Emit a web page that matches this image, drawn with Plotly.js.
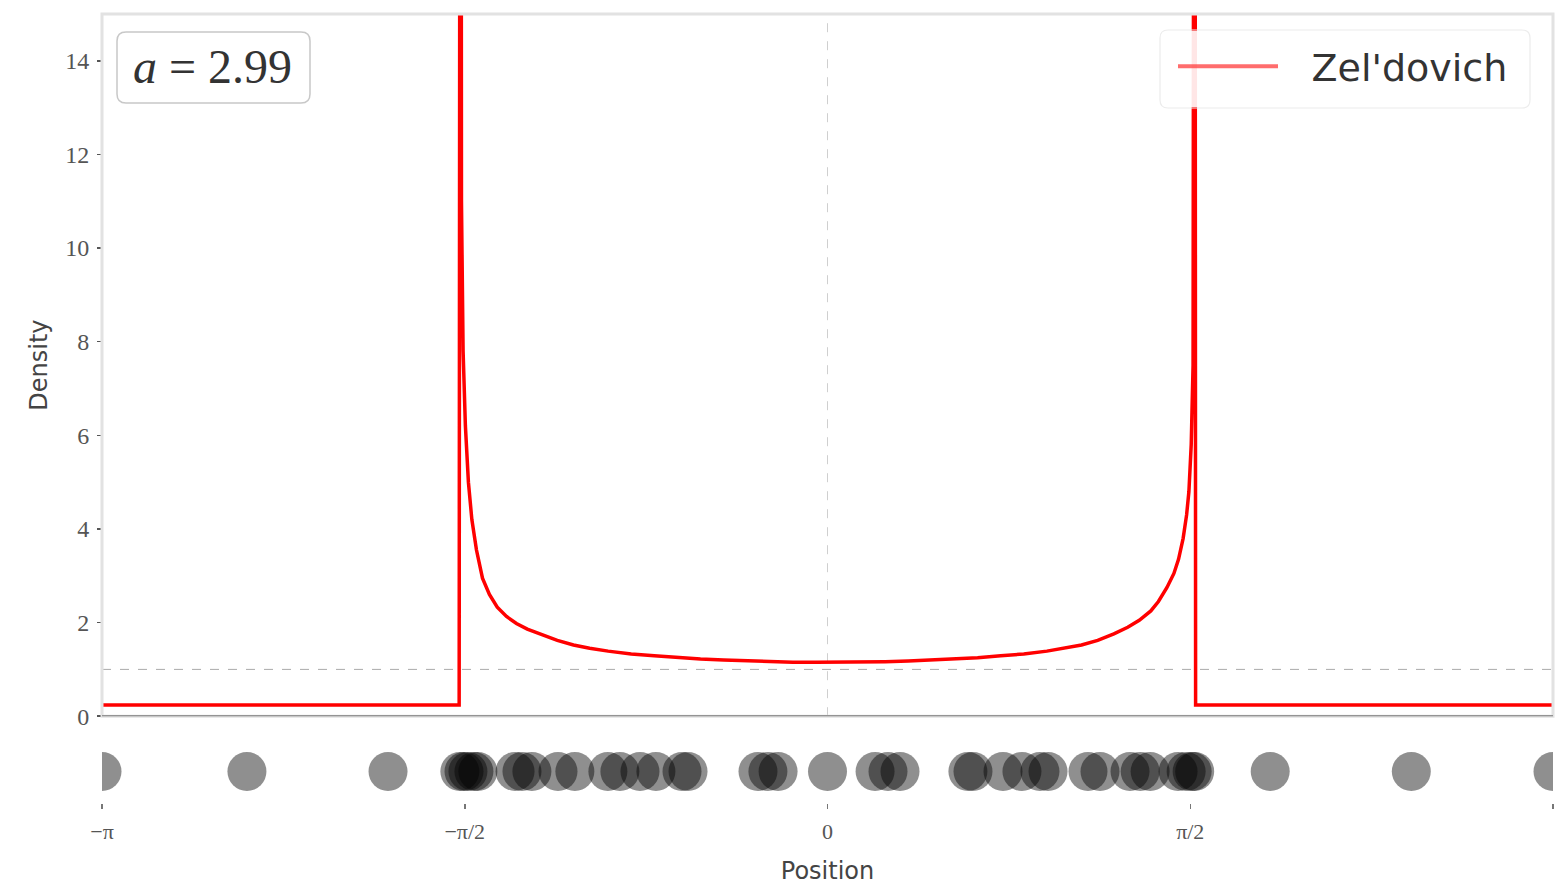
<!DOCTYPE html>
<html>
<head>
<meta charset="utf-8">
<script src="https://cdn.plot.ly/plotly-3.0.1.min.js"></script>
<style>
  html, body { margin: 0; padding: 0; background: #fff; }
  #chart { width: 1558px; height: 888px; }
</style>
</head>
<body>
<div id="chart"></div>
<script>
// ---- Data ----
// Zel'dovich density profile (left half, centre, right half)
const densityXLeft = [-3.1416, -1.595, -1.589, -1.585, -1.578, -1.568, -1.555, -1.54, -1.52, -1.494, -1.464, -1.43, -1.39, -1.347, -1.3, -1.24, -1.17, -1.1, -1.03, -0.95, -0.85, -0.75, -0.65, -0.55, -0.45, -0.35, -0.25, -0.15, -0.05];
const densityYLeft = [0.24, 0.24, 40, 11, 7.8, 6.2, 5.0, 4.2, 3.55, 2.95, 2.6, 2.33, 2.13, 1.98, 1.86, 1.74, 1.62, 1.52, 1.45, 1.39, 1.33, 1.29, 1.25, 1.22, 1.2, 1.18, 1.165, 1.155, 1.15];
const densityXRight = [0.05, 0.15, 0.25, 0.35, 0.45, 0.55, 0.65, 0.75, 0.85, 0.95, 1.03, 1.1, 1.17, 1.24, 1.3, 1.35, 1.4, 1.433, 1.47, 1.5, 1.52, 1.54, 1.555, 1.565, 1.575, 1.583, 1.59, 1.594, 3.1416];
const densityYRight = [1.15, 1.155, 1.165, 1.18, 1.2, 1.22, 1.25, 1.29, 1.33, 1.39, 1.45, 1.52, 1.62, 1.76, 1.9, 2.05, 2.25, 2.45, 2.75, 3.05, 3.35, 3.8, 4.3, 4.8, 5.8, 7.5, 40, 0.24, 0.24];

// Particle positions shown in the strip below the density panel
const particleX = [-3.1416, -2.514, -1.903,
  -1.592, -1.574, -1.557, -1.531, -1.514, -1.353, -1.323, -1.280, -1.167, -1.094, -0.951, -0.899, -0.812, -0.743, -0.630, -0.604,
  -0.301, -0.258, -0.214,
  0.0,
  0.206, 0.262, 0.314,
  0.608, 0.630, 0.760, 0.842, 0.920, 0.955, 1.128, 1.180, 1.310, 1.354, 1.397, 1.518, 1.553, 1.579, 1.590,
  1.917, 2.528, 3.1416];

// Tick labels
const xTickVals = [-Math.PI, -Math.PI / 2, 0, Math.PI / 2, Math.PI];
const xTickText = ['\u2212\u03c0', '\u2212\u03c0/2', '0', '\u03c0/2', '\u03c0'];
const yTickVals = [0, 2, 4, 6, 8, 10, 12, 14];

const legendName = "\u2002\u2005Zel'dovich";
const paramLabel = '<i>a</i> = 2.99';

const densityX = densityXLeft.concat([0], densityXRight);
const densityY = densityYLeft.concat([1.15], densityYRight);
const particleY = particleX.map(() => 0);

const serif = 'Liberation Serif, DejaVu Serif, serif';
const sans = 'DejaVu Sans, Open Sans, sans-serif';

// page geometry (pixels) used only to place decorative boxes in paper coordinates
const W = 1558, H = 888, ML = 102, MR = 5, MT = 14, MB = 85;
const PW = W - ML - MR, PH = H - MT - MB;
function px(x) { return (x - ML) / PW; }
function py(y) { return (H - MB - y) / PH; }
function roundedBox(x0, y0, x1, y1, r) {
  const rx = r / PW, ry = r / PH;
  const a = px(x0), b = px(x1), top = py(y0), bot = py(y1);
  return 'M' + (a + rx) + ',' + top +
    ' L' + (b - rx) + ',' + top + ' Q' + b + ',' + top + ' ' + b + ',' + (top - ry) +
    ' L' + b + ',' + (bot + ry) + ' Q' + b + ',' + bot + ' ' + (b - rx) + ',' + bot +
    ' L' + (a + rx) + ',' + bot + ' Q' + a + ',' + bot + ' ' + a + ',' + (bot + ry) +
    ' L' + a + ',' + (top - ry) + ' Q' + a + ',' + top + ' ' + (a + rx) + ',' + top + ' Z';
}

const traces = [
  {
    x: densityX, y: densityY, xaxis: 'x', yaxis: 'y',
    type: 'scatter', mode: 'lines',
    line: { color: '#ff0000', width: 3.5 },
    showlegend: false, hoverinfo: 'skip'
  },
  {
    x: [null], y: [null], xaxis: 'x', yaxis: 'y',
    type: 'scatter', mode: 'lines', name: legendName,
    line: { color: 'rgba(255,60,60,0.75)', width: 4 },
    showlegend: true
  },
  {
    x: particleX, y: particleY, xaxis: 'x2', yaxis: 'y2',
    type: 'scatter', mode: 'markers',
    marker: { size: 39, color: 'rgba(0,0,0,0.44)', line: { width: 0 } },
    showlegend: false, cliponaxis: true, hoverinfo: 'skip'
  }
];

const layout = {
  width: W, height: H,
  margin: { l: ML, r: MR, t: MT, b: MB },
  paper_bgcolor: '#ffffff', plot_bgcolor: '#ffffff',
  showlegend: true,
  legend: {
    x: px(1173), y: py(35), xanchor: 'left', yanchor: 'top',
    bgcolor: 'rgba(0,0,0,0)', borderwidth: 0,
    font: { family: sans, size: 38, color: '#333' },
    itemwidth: 100
  },
  xaxis: {
    anchor: 'y', domain: [0, 1], range: [-Math.PI, Math.PI],
    showticklabels: false, ticks: '', showgrid: false, zeroline: false, showline: false
  },
  yaxis: {
    anchor: 'x', domain: [0.11, 1], range: [0, 15],
    tickvals: yTickVals, ticks: 'outside', ticklen: 4, tickwidth: 1.5, tickcolor: '#555',
    ticklabelstandoff: 3,
    tickfont: { family: serif, size: 24, color: '#555' },
    showgrid: false, zeroline: false, showline: false,
    title: { text: 'Density', font: { family: sans, size: 24, color: '#444' }, standoff: 10 }
  },
  xaxis2: {
    anchor: 'y2', domain: [0, 1], range: [-Math.PI, Math.PI],
    tickvals: xTickVals, ticktext: xTickText,
    ticks: 'outside', ticklen: 5, tickwidth: 1.5, tickcolor: '#777',
    ticklabelstandoff: 4,
    tickfont: { family: serif, size: 22, color: '#555' },
    showgrid: false, zeroline: false, showline: false,
    title: { text: 'Position', font: { family: sans, size: 24, color: '#444' }, standoff: 18 }
  },
  yaxis2: {
    anchor: 'x2', domain: [0, 0.08], range: [-1, 1], visible: false, fixedrange: true
  },
  shapes: [
    { type: 'line', xref: 'x', yref: 'y domain', x0: 0, x1: 0, y0: 0, y1: 1,
      line: { color: '#cfcfcf', width: 1, dash: 'dash' }, layer: 'below' },
    { type: 'line', xref: 'x domain', yref: 'y', x0: 0, x1: 1, y0: 1, y1: 1,
      line: { color: '#aaaaaa', width: 1, dash: 'dash' }, layer: 'below' },
    { type: 'rect', xref: 'x domain', yref: 'y domain', x0: 0, x1: 1, y0: 0, y1: 1,
      line: { color: '#e2e2e2', width: 3 }, layer: 'above' },
    { type: 'line', xref: 'x domain', yref: 'y', x0: 0, x1: 1, y0: 0, y1: 0,
      line: { color: '#7a7a7a', width: 2 }, layer: 'above' },
    // legend frame: fill + rounded border
    { type: 'rect', xref: 'paper', yref: 'paper', x0: px(1161), x1: px(1529), y0: py(107), y1: py(31),
      fillcolor: '#ffffff', opacity: 0.9, line: { width: 0 }, layer: 'above' },
    { type: 'path', xref: 'paper', yref: 'paper', path: roundedBox(1160, 30, 1530, 108, 8),
      line: { color: '#ececec', width: 1.2 }, layer: 'above' },
    // parameter box frame
    { type: 'path', xref: 'paper', yref: 'paper', path: roundedBox(117, 32, 310, 103, 9),
      fillcolor: '#ffffff', line: { color: '#c8c8c8', width: 1.5 }, layer: 'above' }
  ],
  annotations: [
    { xref: 'paper', yref: 'paper', x: px(212), y: py(67), xanchor: 'center', yanchor: 'middle',
      text: paramLabel, showarrow: false,
      font: { family: serif, size: 48, color: '#333' } }
  ]
};

Plotly.newPlot('chart', traces, layout, { displayModeBar: false, staticPlot: true });
</script>
</body>
</html>
